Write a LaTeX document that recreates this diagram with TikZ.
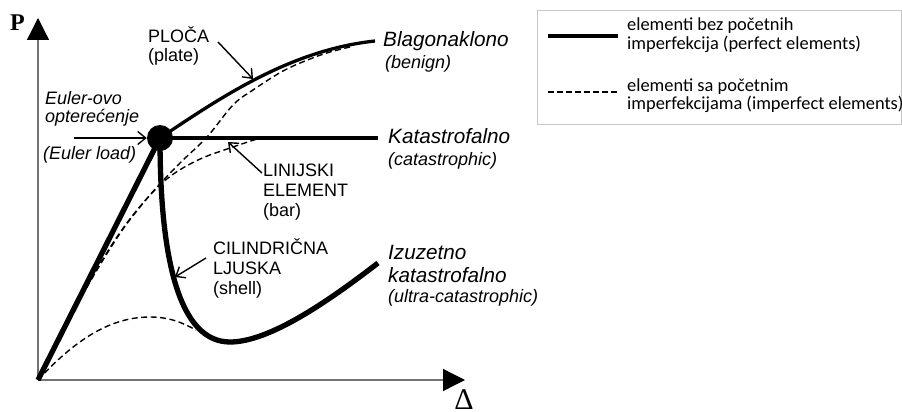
\documentclass[tikz,border=0pt]{standalone}
\usepackage{fontspec}
\setmainfont{Liberation Sans}
\newfontfamily\serifface{Liberation Serif}
\newfontfamily\legface{Carlito}
\usetikzlibrary{arrows.meta}
\begin{document}
\begin{tikzpicture}[x=1pt,y=-1pt,
  axis/.style={draw=black!55, line width=1.3pt, -{Triangle[length=22pt,width=22pt,color=black]}},
  heavy/.style={line width=5.3pt},
  medium/.style={line width=3.3pt},
  dashcurve/.style={line width=1.4pt, dash pattern=on 6pt off 3.5pt},
  pointer/.style={line width=1.4pt, -{Straight Barb[length=8pt,width=13pt]}},
  lbl/.style={inner sep=0pt, anchor=base west, align=left, font=\fontsize{18}{20}\selectfont},
  ilbl/.style={lbl, font=\fontsize{18}{17.5}\selectfont\itshape},
  big/.style={inner sep=0pt, anchor=base west, font=\fontsize{20.7}{22}\selectfont\itshape},
  legtext/.style={inner sep=0pt, anchor=base west, align=left, font=\legface\fontsize{18.4}{18.5}\selectfont}
]
\useasboundingbox (0,0) rectangle (902,412);

% axes
\coordinate (O) at (38,380);
\coordinate (Ytip) at (38,18);
\coordinate (Xtip) at (465,380);
\draw[axis] (O) -- (Ytip);
\draw[axis] (O) -- (Xtip);
\node[font=\serifface\bfseries\fontsize{24}{24}\selectfont, inner sep=0pt] (P) at (17.5,23) {P};
\node[font=\serifface\fontsize{30}{30}\selectfont, inner sep=0pt, anchor=base] (D) at (464,409) {Δ};

% Euler point
\node[circle, fill=black, minimum size=26pt, inner sep=0pt] (E) at (160,138) {};
\coordinate (Kend) at (378,138);
\coordinate (Bend) at (375,41);
\coordinate (Iend) at (378,263);

% imperfect (dashed) curves
\draw[dashcurve] plot[smooth, tension=0.6] coordinates {(38,380) (68,320) (94,274) (119,234) (143,203) (168,178) (198,160) (230,148) (260,138)};
\draw[dashcurve] plot[smooth, tension=0.6] coordinates {(38,380) (70,318) (97,270) (121,232) (140,207) (158,186) (181,162) (207,137) (233,105) (253,90) (283,71) (310,59) (330,52) (350,47)};
\draw[dashcurve] (O) .. controls (75,340) and (110,317) .. (150,317) .. controls (170,317) and (183,323) .. (196,330);

% perfect (solid) curves
\draw[heavy] (O) -- (E.center);
\draw[medium] (E.center) -- (Kend);
\draw[medium] (E.center) .. controls (220,98) and (290,50) .. (Bend);
\draw[heavy] (E.center) .. controls (160,262) and (180,342) .. (230,342) .. controls (270,342) and (330,300) .. (Iend);

% labels
\node[ilbl] (eu1) at (45,122) {Euler-ovo\\opterećenje};
\node[ilbl] (eu2) at (43,159) {(Euler load)};
\coordinate (Ea) at (74,138);
\draw[pointer] (Ea) -- (E.west);

\node[lbl, font=\fontsize{18}{19}\selectfont] (ploca) at (148,62) {PLOČA\\(plate)};
\coordinate (Pa) at (218,42);
\coordinate (Pb) at (253,79);
\draw[pointer] (Pa) -- (Pb);

\node[lbl] (bar) at (263,216) {LINIJSKI\\ELEMENT\\(bar)};
\coordinate (Ba) at (262,173);
\coordinate (Bb) at (228,142);
\draw[pointer] (Ba) -- (Bb);

\node[lbl] (shell) at (213,294) {CILINDRIČNA\\LJUSKA\\(shell)};
\coordinate (Sa) at (206,258);
\coordinate (Sb) at (175,277);
\draw[pointer] (Sa) -- (Sb);

\node[big] (blag) at (383,47) {Blagonaklono};
\node[ilbl] (blag2) at (385,68) {(benign)};
\node[big] (kat) at (388,143) {Katastrofalno};
\node[ilbl] (kat2) at (388,165) {(catastrophic)};
\node[big] (izu) at (388,259) {Izuzetno};
\node[big] (izu2) at (388,282) {katastrofalno};
\node[ilbl] (izu3) at (388,302) {(ultra-catastrophic)};

% legend
\draw[draw=black!22, line width=1pt] (537,11) rectangle (901,124);
\coordinate (L1a) at (548,36);
\coordinate (L1b) at (618,36);
\coordinate (L2a) at (548,92);
\coordinate (L2b) at (618,92);
\draw[line width=3.5pt] (L1a) -- (L1b);
\draw[line width=2pt, dash pattern=on 6pt off 3pt] (L2a) -- (L2b);
\node[legtext] (leg1) at (627,49) {elementi bez početnih\\imperfekcija (perfect elements)};
\node[legtext] (leg2) at (627,110) {elementi sa početnim\\imperfekcijama (imperfect elements)};
\end{tikzpicture}
\end{document}
